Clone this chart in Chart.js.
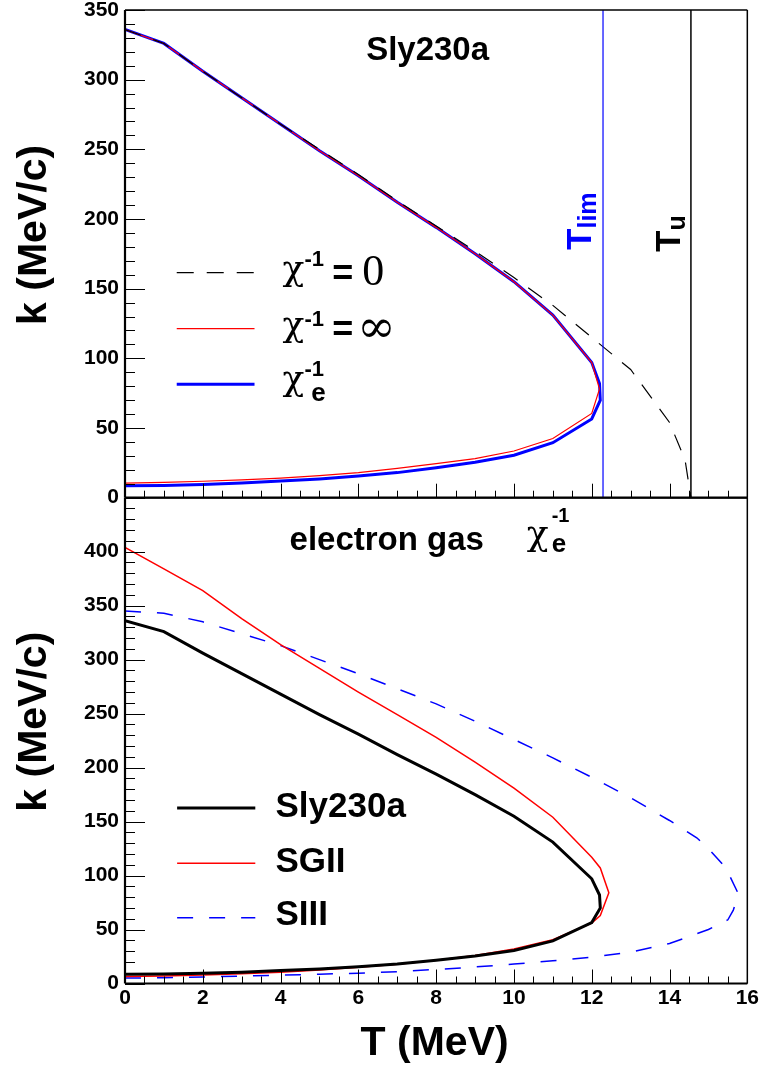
<!DOCTYPE html>
<html>
<head>
<meta charset="utf-8">
<script src="https://cdn.jsdelivr.net/npm/chart.js@4.4.1/dist/chart.umd.min.js"></script>
<style>
  html, body { margin: 0; padding: 0; background: #fff; }
  #c { display: block; }
</style>
</head>
<body>
<canvas id="c" width="763" height="1068"></canvas>
<script>
// --- upper panel: Sly230a, k vs T for three chi^-1 choices ---
const tChi0 = [0, 1, 2, 3, 4, 5, 6, 7, 8, 9, 10, 11, 12, 13, 14, 14.4, 14.55];
const kChi0 = [336, 326, 306, 287, 268, 250, 232, 213, 195, 177, 158, 138, 115, 92, 54, 27, 0];

const tChiInf = [0, 1, 2, 3, 4, 5, 6, 7, 8, 9, 10, 11, 12, 12.2, 12, 11, 10, 9, 8, 7, 6, 5, 4, 3, 2, 1, 0];
const kChiInf = [336, 326, 306, 287, 268, 249, 231, 212, 194, 175, 155, 131, 97, 78, 60.5, 42.5, 33.5, 28, 24.5, 21, 18, 15.8, 14, 12.8, 11.8, 11, 10.5];

// chi_e curve (same curve is "Sly230a" in the lower panel)
const tChiE = [0, 1, 2, 3, 4, 5, 6, 7, 8, 9, 10, 11, 12, 12.2, 12.22, 12, 11, 10, 9, 8, 7, 6, 5, 4, 3, 2, 1, 0];
const kChiE = [336, 326, 306, 287, 268, 249, 231, 212, 194, 175, 155, 131, 97, 82, 70, 56.5, 39.5, 30.5, 25.5, 21.5, 18, 15.5, 13.5, 12, 10.5, 9.5, 8.8, 8.5];

const tLim = 12.29;
const tU = 14.55;

// --- lower panel: electron gas, three forces ---
const tSGII = [0, 1, 2, 3, 4, 5, 6, 7, 8, 9, 10, 11, 12, 12.22, 12.44, 12.22, 12, 11, 10, 9, 8, 7, 6, 5, 4, 3, 2, 1, 0];
const kSGII = [404, 384, 364, 338, 314, 292, 270, 249, 228, 205, 181, 154, 117, 107, 84, 63, 56, 40.5, 32, 26, 21.5, 17.8, 15, 12.5, 10.5, 9, 7.8, 7, 6.5];

const tSIII = [0, 1, 2, 3, 4, 5, 6, 7, 8, 9, 10, 11, 12, 13, 14, 14.7, 15, 15.45, 15.77, 15.64, 15.5, 15, 14, 13, 12, 11, 10, 9, 8, 7, 6, 5, 4, 3, 2, 1, 0];
const kSIII = [345, 343, 335, 324, 313, 300, 287, 273, 259, 243, 226, 209, 191, 172, 151, 135, 125, 107, 83, 68, 59, 50, 37, 29, 24.5, 21, 18, 15.3, 13, 11, 9.6, 8.6, 7.8, 6.8, 6, 5.4, 5];

const tMax = 16;
const kMaxTop = 350;
const kMaxBot = 450;

const SANS = '"Liberation Sans", Arial, Helvetica, sans-serif';
Chart.defaults.font.family = SANS;
Chart.defaults.color = '#000';

const pts = (ts, ks) => ts.map((t, i) => ({ x: t, y: ks[i] }));

const line = (label, ts, ks, axis, color, width, dash) => ({
  label,
  data: pts(ts, ks),
  yAxisID: axis,
  showLine: true,
  borderColor: color,
  backgroundColor: color,
  borderWidth: width,
  borderDash: dash || [],
  pointRadius: 0,
  tension: 0,
  fill: false
});

const datasets = [
  line('Tlim', [tLim, tLim], [0, kMaxTop], 'yTop', '#0000ff', 1.2),
  line('Tu', [tU, tU], [0, kMaxTop], 'yTop', '#000000', 1.5),
  line('chi0', tChi0, kChi0, 'yTop', '#000000', 1.2, [17, 13]),
  line('chiInf', tChiInf, kChiInf, 'yTop', '#ff0000', 1.2),
  line('chiE', tChiE, kChiE, 'yTop', '#0000ff', 3),
  line('Sly230a', tChiE, kChiE, 'yBot', '#000000', 3),
  line('SGII', tSGII, kSGII, 'yBot', '#ff0000', 1.5),
  line('SIII', tSIII, kSIII, 'yBot', '#0000ff', 1.5, [16, 16])
];

function seg(ctx, x1, y1, x2, y2) {
  ctx.beginPath(); ctx.moveTo(x1, y1); ctx.lineTo(x2, y2); ctx.stroke();
}

function txt(ctx, s, x, y, font, color, align) {
  ctx.font = font;
  ctx.fillStyle = color || '#000';
  ctx.textAlign = align || 'left';
  ctx.textBaseline = 'alphabetic';
  ctx.fillText(s, x, y);
}

const framePlugin = {
  id: 'frame',
  afterDatasetsDraw(chart) {
    const { ctx, scales: { x, yTop, yBot } } = chart;
    ctx.save();
    ctx.strokeStyle = '#000';
    ctx.lineWidth = 1;
    ctx.setLineDash([]);
    [yTop, yBot].forEach(y => {
      for (let v = 0; v <= y.max; v += 10) {
        const py = Math.round(y.getPixelForValue(v)) + 0.5;
        seg(ctx, x.left, py, x.left + (v % 50 === 0 ? 20 : 10), py);
      }
      for (let t = 0; t <= tMax; t += 0.5) {
        const px = Math.round(x.getPixelForValue(t)) + 0.5;
        seg(ctx, px, y.bottom, px, y.bottom - (t % 2 === 0 ? 14 : 7));
      }
      ctx.lineWidth = 1.5;
      seg(ctx, x.left, y.top, x.right, y.top);
      seg(ctx, x.right, y.top, x.right, y.bottom);
      ctx.lineWidth = 2.2;
      seg(ctx, x.left, y.top, x.left, y.bottom);
      seg(ctx, x.left, y.bottom, x.right, y.bottom);
      ctx.lineWidth = 1;
    });
    ctx.restore();
  },
  afterDraw(chart) {
    const { ctx, scales: { x, yTop, yBot } } = chart;
    const X = t => x.getPixelForValue(t);
    const YT = k => yTop.getPixelForValue(k);
    const YB = k => yBot.getPixelForValue(k);
    const ds = chart.data.datasets;
    const byLabel = l => ds.find(d => d.label === l);
    const legLine = (d, py) => {
      ctx.strokeStyle = d.borderColor;
      ctx.lineWidth = d.borderWidth;
      ctx.setLineDash(d.borderDash);
      seg(ctx, X(1.33), py, X(3.33), py);
      ctx.setLineDash([]);
    };
    const chi = (px, py) => txt(ctx, '\u03C7', px, py, '36px "DejaVu Serif", serif');
    ctx.save();

    // upper panel title
    txt(ctx, 'Sly230a', X(7.78), YT(314), 'bold 33px ' + SANS, '#000', 'center');

    // upper legend
    legLine(byLabel('chi0'), YT(161.5));
    legLine(byLabel('chiInf'), YT(121.3));
    legLine(byLabel('chiE'), YT(81.4));
    chi(X(4.05), YT(156.2));
    txt(ctx, '-1', X(4.615), YT(166.4), 'bold 22px ' + SANS);
    txt(ctx, '=', X(5.33), YT(152.5), 'bold 36px ' + SANS);
    txt(ctx, '0', X(6.1), YT(152.3), '44px "Liberation Serif", serif');
    chi(X(4.05), YT(116));
    txt(ctx, '-1', X(4.615), YT(123.3), 'bold 22px ' + SANS);
    txt(ctx, '=', X(5.33), YT(112.4), 'bold 36px ' + SANS);
    txt(ctx, '\u221E', X(5.97), YT(111.8), '46px "DejaVu Serif", serif');
    chi(X(4.05), YT(77.3));
    txt(ctx, '-1', X(4.615), YT(87.4), 'bold 22px ' + SANS);
    txt(ctx, 'e', X(4.79), YT(69.4), 'bold 26px ' + SANS);

    // vertical line labels, rotated
    const rot = (px, py, main, sub, color) => {
      ctx.save();
      ctx.translate(px, py);
      ctx.rotate(-Math.PI / 2);
      txt(ctx, main, 0, 0, 'bold 35px ' + SANS, color);
      const w = ctx.measureText(main).width;
      txt(ctx, sub, w, 5, 'bold 25px ' + SANS, color);
      ctx.restore();
    };
    rot(X(11.97), YT(177.8), 'T', 'lim', '#0000ff');
    rot(X(14.28), YT(176.4), 'T', 'u', '#000000');

    // lower panel title
    txt(ctx, 'electron gas', X(4.23), YB(401.4), 'bold 33px ' + SANS);
    chi(X(10.33), YB(406));
    txt(ctx, '-1', X(10.97), YB(427.3), 'bold 20px ' + SANS);
    txt(ctx, 'e', X(10.97), YB(399.8), 'bold 26px ' + SANS);

    // lower legend
    const lowRows = [['Sly230a', 162.5, 154.6], ['SGII', 111.3, 103.5], ['SIII', 60.9, 54.2]];
    lowRows.forEach(([name, kl, kt]) => {
      const d = byLabel(name);
      ctx.strokeStyle = d.borderColor;
      ctx.lineWidth = d.borderWidth;
      ctx.setLineDash(d.borderDash);
      seg(ctx, X(1.34), YB(kl), X(3.35), YB(kl));
      ctx.setLineDash([]);
      txt(ctx, name, X(3.87), YB(kt), 'bold 35px ' + SANS);
    });

    // axis titles
    const yTitle = (py) => {
      ctx.save();
      ctx.translate(x.left - 79.3, py);
      ctx.rotate(-Math.PI / 2);
      txt(ctx, 'k (MeV/c)', 0, 0, 'bold 41px ' + SANS, '#000', 'center');
      ctx.restore();
    };
    yTitle(YT(188.6));
    yTitle(YB(242.5));
    txt(ctx, 'T (MeV)', X(7.96), x.top + 71, 'bold 41px ' + SANS, '#000', 'center');
    ctx.restore();
  }
};

const tickFont = { family: SANS, size: 21, weight: 'bold', lineHeight: 1.0 };
const noPad = s => { s.width = 125; s.paddingTop = 0; s.paddingBottom = 0; };

new Chart(document.getElementById('c'), {
  type: 'scatter',
  data: { datasets },
  options: {
    responsive: false,
    animation: false,
    layout: { padding: { top: 10, right: 14, bottom: 0, left: 0 } },
    plugins: { legend: { display: false }, tooltip: { enabled: false } },
    scales: {
      x: {
        type: 'linear', position: 'bottom', min: 0, max: tMax,
        grid: { display: false, drawTicks: false },
        border: { display: false },
        ticks: { stepSize: 2, autoSkip: false, padding: 4, font: tickFont, color: '#000' },
        afterFit: s => { s.height = 84.5; }
      },
      yBot: {
        type: 'linear', position: 'left', stack: 'k', stackWeight: 485.8,
        min: 0, max: kMaxBot,
        grid: { display: false, drawTicks: false },
        border: { display: false },
        ticks: {
          stepSize: 50, autoSkip: false, padding: 6, font: tickFont, color: '#000',
          callback: v => (v === kMaxBot ? '' : v)
        },
        afterFit: noPad
      },
      yTop: {
        type: 'linear', position: 'left', stack: 'k', stackWeight: 487.7,
        min: 0, max: kMaxTop,
        grid: { display: false, drawTicks: false },
        border: { display: false },
        ticks: { stepSize: 50, autoSkip: false, padding: 6, font: tickFont, color: '#000' },
        afterFit: noPad
      }
    }
  },
  plugins: [framePlugin]
});
</script>
</body>
</html>
